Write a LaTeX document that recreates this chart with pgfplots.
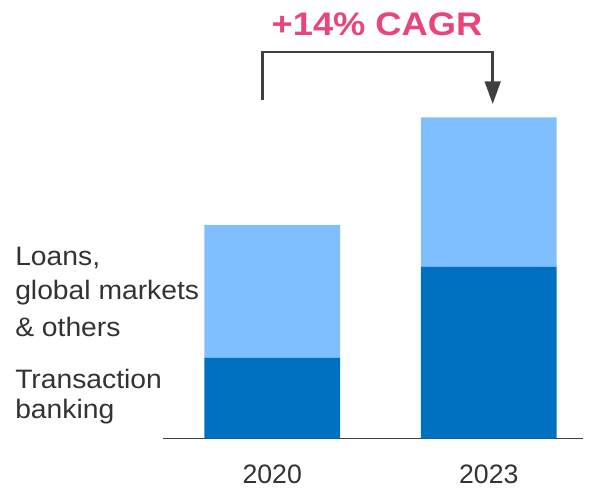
\documentclass[border=0pt]{standalone}
\usepackage{pgfplots}
\pgfplotsset{compat=1.18}
\usepackage{graphicx}
\usepackage{fontspec}
\setmainfont{Liberation Sans}
\usetikzlibrary{arrows.meta}
\definecolor{darkblue}{HTML}{0070C0}
\definecolor{lightblue}{HTML}{7FBFFF}
\definecolor{pinkc}{HTML}{E8457C}
\definecolor{txtc}{HTML}{333333}
\definecolor{arrc}{HTML}{404040}
\newcommand\lblfont{\fontsize{20}{23}\selectfont}
\newcommand\ttlfont{\bfseries\fontsize{24.5}{28}\selectfont}
\begin{document}
\begin{tikzpicture}
\begin{axis}[
  x=162.45pt, y=0.75pt,
  xmin=-0.504, xmax=1.435, ymin=0, ymax=438.5,
  ybar stacked, bar width=101.8pt,
  axis x line*=bottom, axis y line=none,
  x axis line style={draw=arrc, line width=1pt},
  xtick={0,1}, xticklabels={2020,2023},
  major tick length=0pt,
  xticklabel style={anchor=base, yshift=-33.6pt, font=\lblfont, text=txtc},
  clip=false,
]
\addplot[fill=darkblue, draw=none] coordinates {(0,80.8) (1,171.8)};
\addplot[fill=lightblue, draw=none] coordinates {(0,132.7) (1,149.4)};
\coordinate (bl) at (axis cs:-1.2567,-50.5);
\coordinate (tr) at (axis cs:1.4626,438.5);
\coordinate (l1) at (axis cs:-1.1874,172.5);
\coordinate (l2) at (axis cs:-1.1874,138.5);
\coordinate (l3) at (axis cs:-1.1874,101.8);
\coordinate (l4) at (axis cs:-1.1874,50.2);
\coordinate (l5) at (axis cs:-1.1874,20.2);
\coordinate (a1) at (axis cs:-0.0457,338.5);
\coordinate (a2) at (axis cs:-0.0457,386.5);
\coordinate (a3) at (axis cs:1.018,386.5);
\coordinate (a4) at (axis cs:1.018,334.5);
\coordinate (tt) at (axis cs:0.4838,402.5);
\end{axis}
\node[anchor=base west, inner sep=0pt, text=txtc, font=\lblfont] at (l1) {\scalebox{1.06}[1]{Loans,}};
\node[anchor=base west, inner sep=0pt, text=txtc, font=\lblfont] at (l2) {\scalebox{1.06}[1]{global markets}};
\node[anchor=base west, inner sep=0pt, text=txtc, font=\lblfont] at (l3) {\scalebox{1.06}[1]{\& others}};
\node[anchor=base west, inner sep=0pt, text=txtc, font=\lblfont] at (l4) {\scalebox{1.06}[1]{Transaction}};
\node[anchor=base west, inner sep=0pt, text=txtc, font=\lblfont] at (l5) {\scalebox{1.06}[1]{banking}};
\draw[arrc, line width=2pt, -{Triangle[width=11.8pt,length=17pt]}] (a1) -- (a2) -- (a3) -- (a4);
\node[anchor=base, inner sep=0pt, text=pinkc, font=\ttlfont] at (tt) {\scalebox{1.11}[1]{+14\% CAGR}};
\pgfresetboundingbox
\path (bl) rectangle (tr);
\end{tikzpicture}
\end{document}
